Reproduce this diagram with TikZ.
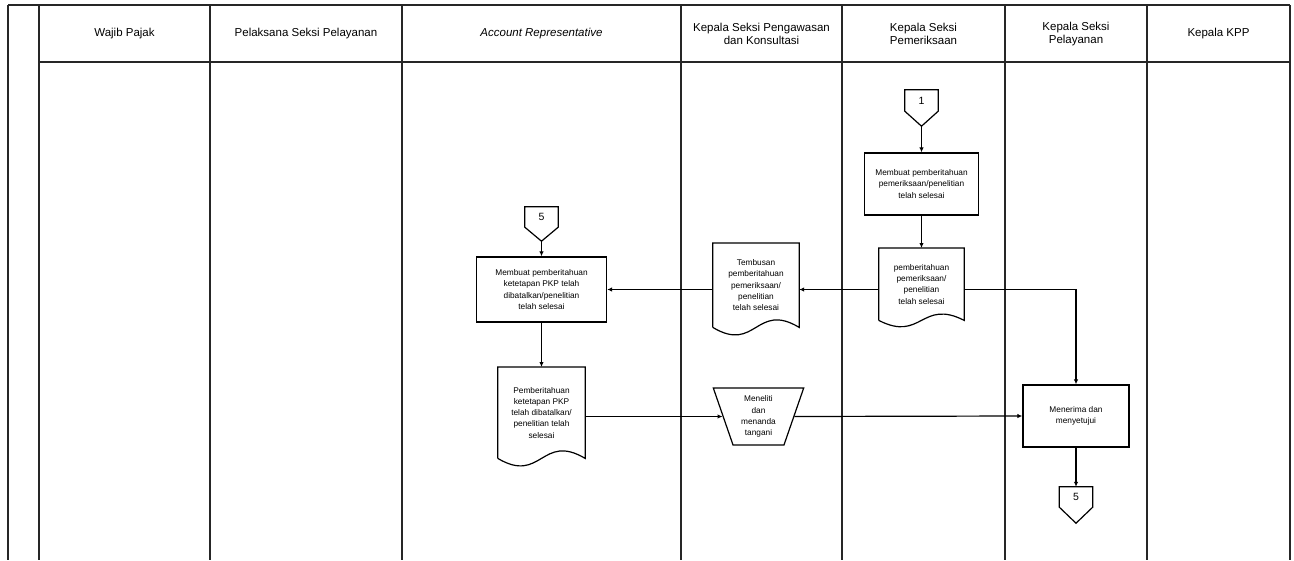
\documentclass[tikz,border=0pt]{standalone}
\usepackage{fontspec}
\setmainfont{Liberation Sans}
\usetikzlibrary{arrows.meta,calc,shapes.geometric}
\tikzset{
  lane/.style={line width=1.5pt, black!85},
  flow/.style={line width=1.2pt, black},
  arr/.style={flow, -{Latex[length=5pt,width=4.5pt]}},
  hdr/.style={font=\fontsize{11.5}{13}\selectfont, align=center, inner sep=0pt},
  txt/.style={font=\fontsize{8.3}{11.3}\selectfont, align=center, inner sep=1pt},
  proc/.style={txt, draw, line width=1.3pt},
  docbox/.style={txt, draw=none, anchor=north},
  conbox/.style={draw=none, inner sep=0pt, font=\fontsize{10.5}{10.5}\selectfont},
  trap/.style={txt, draw, line width=1.2pt, trapezium, shape border rotate=180,
    trapezium left angle=72, trapezium right angle=72, trapezium stretches=true}
}
\newcommand\docdraw[2]{%
  \draw[line width=1.2pt] let \p1=(#1.south west), \p2=(#1.south east) in
    (#1.south west) -- (#1.north west) -- (#1.north east) -- (#1.south east)
    .. controls ({\x1+0.5*(\x2-\x1)},{\y1+#2}) and ({\x1+0.5*(\x2-\x1)},{\y1-#2}) .. (#1.south west);}
\newcommand\condraw[3]{% name, tip depth, tip coordinate name
  \draw[line width=1.2pt] (#1.north west) -- (#1.north east) -- (#1.south east)
    -- ($(#1.south)+(0,-#2)$) coordinate (#3) -- (#1.south west) -- cycle;}
\begin{document}
\begin{tikzpicture}[x=1pt,y=-1pt]
\useasboundingbox (0,0) rectangle (1294,560);
\fill[white] (0,0) rectangle (1294,560);
% frame and lanes
\draw[lane] (8,5) -- (1290,5);
\draw[lane] (39,62) -- (1290,62);
\foreach \x in {8,39,210,402,681,842,1005,1147,1290}
  \draw[lane] (\x,5) -- (\x,560);
% headers
\node[hdr] (h1) at (124.5,34) {Wajib Pajak};
\node[hdr] (h2) at (306,34) {Pelaksana Seksi Pelayanan};
\node[hdr] (h3) at (541.5,34) {\itshape Account Representative};
\node[hdr] (h4) at (761.5,34) {Kepala Seksi Pengawasan\\dan Konsultasi};
\node[hdr] (h5) at (923.5,34) {Kepala Seksi\\Pemeriksaan};
\node[hdr] (h6) at (1076,34) {Kepala Seksi\\Pelayanan};
\node[hdr] (h7) at (1218.5,34) {Kepala KPP};

% connector 1
\node[conbox, minimum width=33pt, minimum height=21pt] (c1) at (921.5,100.5) {1};
\condraw{c1}{15pt}{c1tip}
% box pemeriksaan
\node[proc, minimum width=114pt, minimum height=62pt] (b1) at (921.5,184) {Membuat pemberitahuan\\pemeriksaan/penelitian\\telah selesai};
% doc pemeriksaan
\node[docbox, minimum width=85pt, minimum height=72pt] (dP) at (921.5,248) {pemberitahuan\\pemeriksaan/\\penelitian\\telah selesai};
\docdraw{dP}{22pt}
% doc tembusan
\node[docbox, minimum width=86pt, minimum height=84pt] (dT) at (756,243) {Tembusan\\pemberitahuan\\pemeriksaan/\\penelitian\\telah selesai};
\docdraw{dT}{26pt}
% connector 5 (top)
\node[conbox, minimum width=33pt, minimum height=20pt] (c5) at (541.5,217) {5};
\condraw{c5}{14pt}{c5tip}
% AR box
\node[proc, minimum width=130pt, minimum height=65pt] (bA) at (541.5,289.5) {Membuat pemberitahuan\\ketetapan PKP telah\\dibatalkan/penelitian\\telah selesai};
% AR doc
\node[docbox, minimum width=87pt, minimum height=91pt] (dA) at (541.5,367) {Pemberitahuan\\ketetapan PKP\\telah dibatalkan/\\penelitian telah\\selesai};
\docdraw{dA}{26pt}
% trapezoid
\node[trap, minimum width=91pt, minimum height=57pt] (tr) at (758.5,416.5) {Meneliti\\dan\\menanda\\tangani};
% box pelayanan
\node[proc, minimum width=106pt, minimum height=62pt] (bM) at (1076,416) {Menerima dan\\menyetujui};
% connector 5 (bottom)
\node[conbox, minimum width=33pt, minimum height=20pt] (c6) at (1076,497) {5};
\condraw{c6}{16pt}{c6tip}

% connectors
\draw[arr] (c1tip) -- (b1.north);
\draw[arr] (b1.south) -- (dP.north);
\draw[arr] (dP.west |- bA.east) -- (dT.east |- bA.east);
\draw[arr] (dT.west |- bA.east) -- (bA.east);
\draw[arr] (dP.east |- bA.east) -| (bM.north);
\draw[arr] (c5tip) -- (bA.north);
\draw[arr] (bA.south) -- (dA.north);
\draw[arr] (dA.east |- tr.west) -- (tr.west);
\draw[arr] (tr.east) -- (bM.west);
\draw[arr] (bM.south) -- (c6.north);
\end{tikzpicture}
\end{document}
